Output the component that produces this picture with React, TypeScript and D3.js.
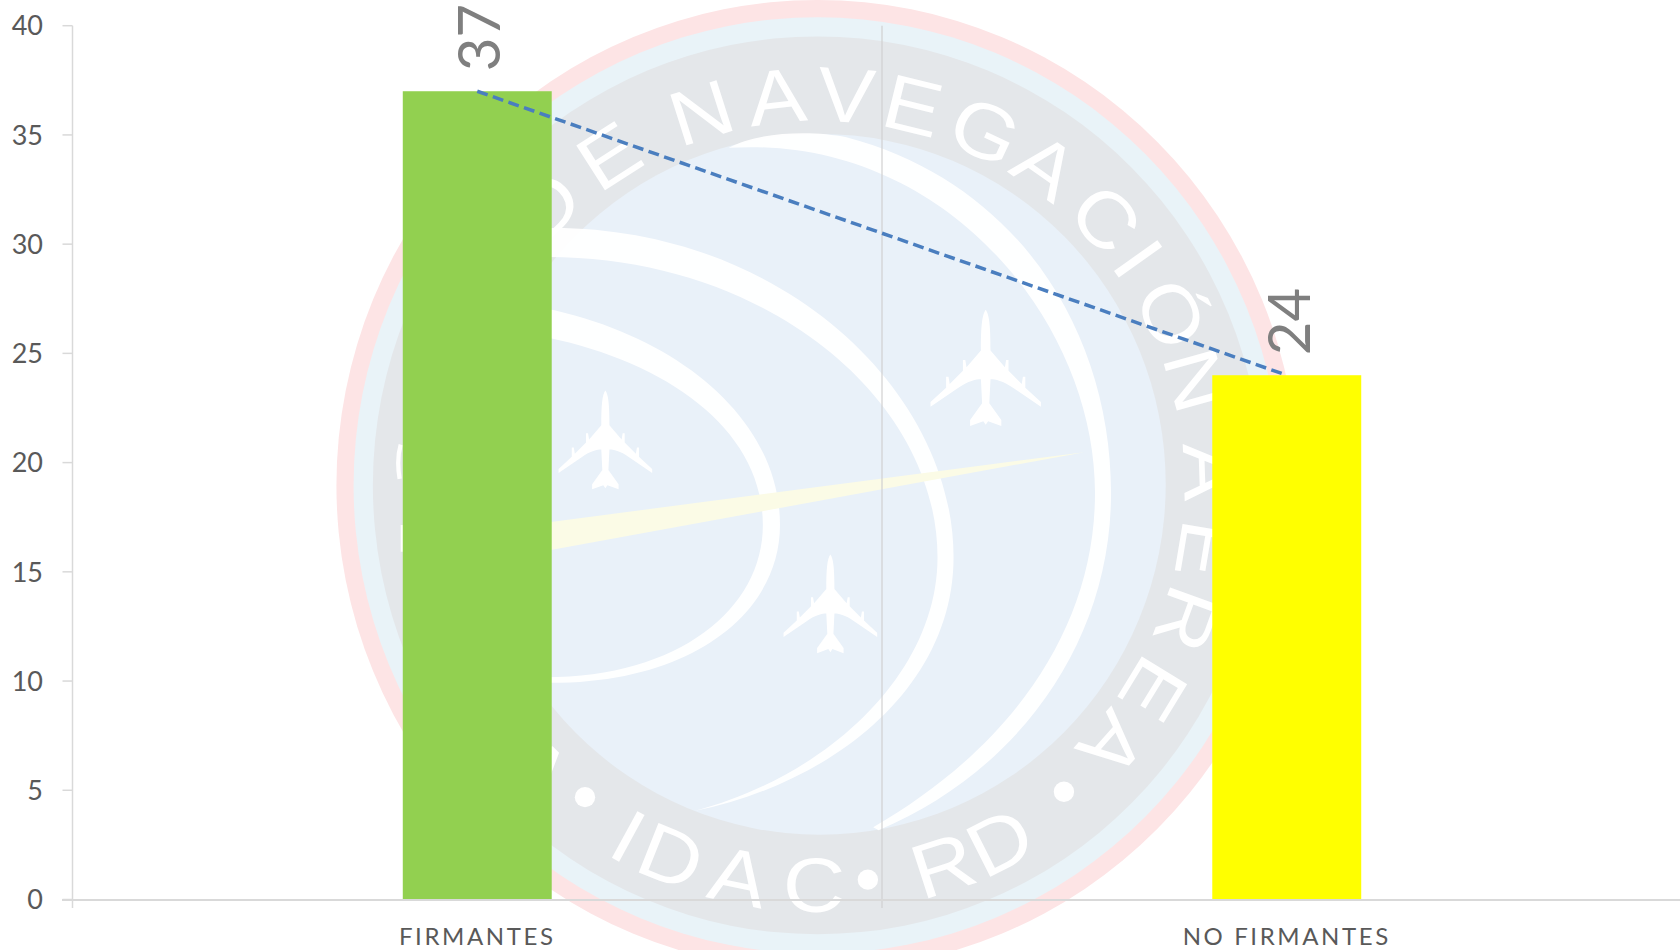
import React from "react";
import * as d3 from "d3";

const categories = ["FIRMANTES", "NO FIRMANTES"];
const seriesValues = [37, 24];
const barColors = ["#92d050", "#ffff00"];
const yTickValues = [0, 5, 10, 15, 20, 25, 30, 35, 40];

const W = 1680, H = 950;
const font = "Lato, 'Open Sans', sans-serif";
const x = d3.scaleBand<string>().domain(categories).range([72.5, 1691.5]);
const y = d3.scaleLinear().domain([0, 40]).range([899.5, 25.7]);
const barW = x.bandwidth() * 0.184;
const cx = (c: string) => (x(c) as number) + x.bandwidth() / 2;

const trend = d3.line<number>().x((_, i) => cx(categories[i])).y((d) => y(d));

// Watermark crest, laid out in the 1568-wide coordinate frame
const C = { x: 765, y: 453 };
const topLetters: [string, number][] = [
  ["D", -44.4], ["E", -32.6], ["N", -17.6], ["A", -6.3], ["V", 3.9], ["E", 13.8], ["G", 25], ["A", 35.3],
  ["C", 47], ["I", 54.6], ["Ó", 64], ["N", 74.4], ["Á", 88], ["E", 99.5], ["R", 110], ["E", 121.4], ["A", 131.5],
];
const bottomLetters: [string, number][] = [
  ["A", -45], ["I", -28.6], ["D", -21.8], ["A", -11.7], ["C", -0.8], ["R", 18], ["D", 26.8],
];
const PLANE =
  "M0,-50 C3,-46 4,-36 4,-16 L16,-2 L17,-8 L19,-8 L19,1 L30,12 L31,6 L33,6 L33,15 L46,27 L46,31 L24,16 C14,9 8,8 4,8 L3,28 L13,42 L13,47 L2,43 L0,46 L-2,43 L-13,47 L-13,42 L-3,28 L-4,8 C-8,8 -14,9 -24,16 L-46,31 L-46,27 L-33,15 L-33,6 L-31,6 L-30,12 L-19,1 L-19,-8 L-17,-8 L-16,-2 L-4,-16 C-4,-36 -3,-46 0,-50 Z";

function Crest() {
  return (
    <g transform={`scale(${1680 / 1568})`}>
      <ellipse cx={C.x - 2} cy={C.y} rx={449} ry={453} fill="#fde4e5" />
      <ellipse cx={C.x - 2} cy={C.y} rx={433} ry={437} fill="#e9f3f8" />
      <ellipse cx={C.x - 2} cy={C.y} rx={415} ry={419} fill="#e4e7ea" />
      <ellipse cx={C.x} cy={C.y - 1} rx={323} ry={327} fill="#e9f1f9" />
      <path d="M680,138 C710,122 760,122 790,128 C950,170 1037,310 1037,460 C1037,600 950,720 820,775 L815,772 C940,700 1022,590 1022,460 C1022,300 880,125 680,138 Z" fill="#fff" opacity={0.95} />
      <path d="M500,213 C720,205 890,360 890,520 C890,640 780,730 648,757 C770,725 875,630 875,520 C875,370 710,235 500,240 Z" fill="#fff" opacity={0.95} />
      <path d="M500,286 C630,310 728,390 728,490 C728,575 640,642 500,637 L500,632 C630,635 712,570 712,490 C712,400 620,335 500,313 Z" fill="#fff" opacity={0.95} />
      <path d="M1012,422 L500,489 L500,516 Z" fill="#fbfbe6" />
      <path d="M374,415 C371,425 371,435 373,447 M376,490 L376,515" stroke="#fff" strokeWidth={4} fill="none" />
      {[[565, 412, 0.95, 0], [920, 345, 1.12, 0], [775, 565, 0.95, 0]].map(([px, py, s, r], i) => (
        <path key={i} d={PLANE} transform={`translate(${px},${py}) rotate(${r}) scale(${s})`} fill="#fff" />
      ))}
      {topLetters.map(([ch, a], i) => (
        <text key={i} transform={`translate(${C.x},${C.y}) rotate(${a}) scale(1.12,1)`} y={-340} textAnchor="middle"
          fontFamily="'Liberation Sans', sans-serif" fontSize={72} fill="#fff">{ch}</text>
      ))}
      {bottomLetters.map(([ch, a], i) => (
        <text key={i} transform={`translate(${C.x},${C.y}) rotate(${-a}) scale(1.12,1)`} y={398} textAnchor="middle"
          fontFamily="'Liberation Sans', sans-serif" fontSize={72} fill="#fff">{ch}</text>
      ))}
      {[[546, 744], [810, 821], [993, 739]].map(([bx, by], i) => (
        <circle key={i} cx={bx} cy={by} r={9.5} fill="#fff" />
      ))}
    </g>
  );
}

export default function App() {
  return (
    <svg width={W} height={H} viewBox={`0 0 ${W} ${H}`} style={{ position: "fixed", left: 0, top: 0, background: "#fff" }}>
      <Crest />
      {/* axes */}
      <line x1={72.5} x2={72.5} y1={y(40)} y2={908} stroke="#d9d9d9" strokeWidth={1.5} />
      {yTickValues.map((t) => (
        <g key={t}>
          <line x1={62.5} x2={72.5} y1={y(t)} y2={y(t)} stroke="#d9d9d9" strokeWidth={1.5} />
          <text x={43} y={y(t)} dy="0.36em" textAnchor="end" fontFamily={font} fontSize={27} fill="#595959">{t}</text>
        </g>
      ))}
      <line x1={x(categories[1])} x2={x(categories[1])} y1={y(40)} y2={908} stroke="#d0d0d0" strokeWidth={1.2} />
      {categories.map((c, i) => (
        <rect key={c} x={cx(c) - barW / 2} y={y(seriesValues[i])} width={barW} height={y(0) - y(seriesValues[i])} fill={barColors[i]} />
      ))}
      <line x1={62} x2={W} y1={y(0) + 0.5} y2={y(0) + 0.5} stroke="#d9d9d9" strokeWidth={2} />
      <path d={trend(seriesValues) as string} fill="none" stroke="#4a7ebf" strokeWidth={3.5} strokeDasharray="11 5.5" />
      {categories.map((c, i) => (
        <g key={c}>
          <text transform={`translate(${cx(c) + 23},${y(seriesValues[i]) - 20}) rotate(-90)`} fontFamily={font} fontSize={58} fill="#7f7f7f">{seriesValues[i]}</text>
          <text x={cx(c)} y={945} textAnchor="middle" fontFamily={font} fontSize={24} letterSpacing={2.6} fill="#595959">{c}</text>
        </g>
      ))}
    </svg>
  );
}
